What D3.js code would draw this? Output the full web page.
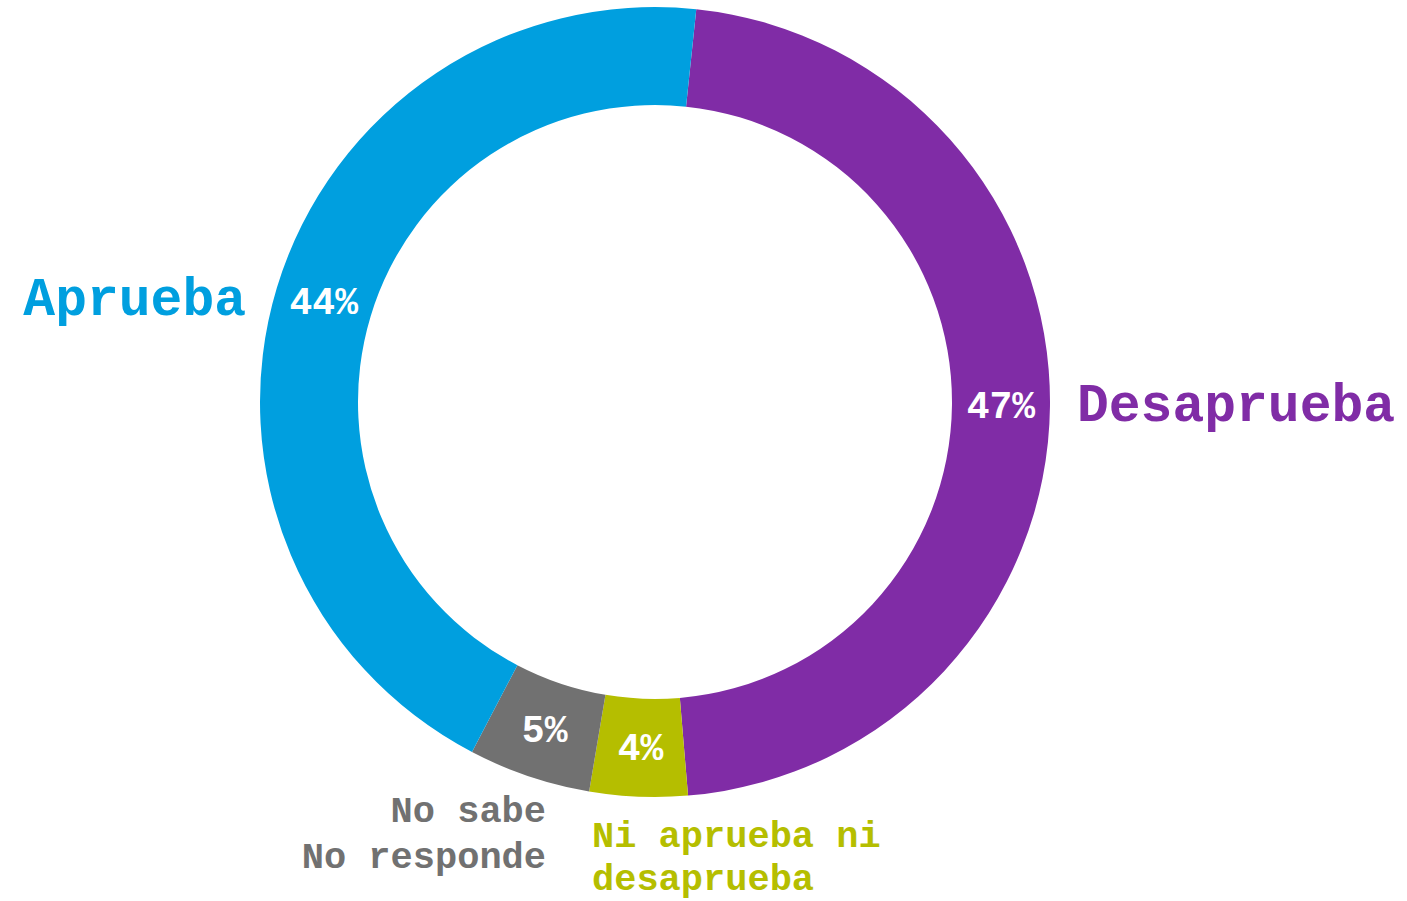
<!DOCTYPE html>
<html><head><meta charset="utf-8">
<script src="https://cdn.jsdelivr.net/npm/d3@7"></script>
<style>html,body{margin:0;padding:0;background:#fff;overflow:hidden}</style>
</head><body>
<svg id="c" width="1407" height="901"></svg>
<script>
const categories = ["Desaprueba", "Ni aprueba ni desaprueba", "No sabe No responde", "Aprueba"];
const values = [47, 4, 5, 44];
const pctLabels = ["47%", "4%", "5%", "44%"];
const colors = ["#802ca6", "#b5be00", "#717171", "#009fdf"];
const nameLines = [["Desaprueba"], ["Ni aprueba ni", "desaprueba"], ["No sabe", "No responde"], ["Aprueba"]];

const cx = 655, cy = 402, R = 395, r = 297;
const svg = d3.select("#c");
const g = svg.append("g").attr("transform", `translate(${cx},${cy})`);
const start = 6 * Math.PI / 180;
const pie = d3.pie().sort(null).value(d => d).startAngle(start).endAngle(start + 2 * Math.PI);
const arcs = pie(values);
const arc = d3.arc().innerRadius(r).outerRadius(R);
const font = "'Courier New','Liberation Mono',monospace";

g.selectAll("path").data(arcs).join("path")
  .attr("d", arc).attr("fill", (d, i) => colors[i]);

const mid = d3.arc().innerRadius(346).outerRadius(346);
g.selectAll("text.pct").data(arcs).join("text")
  .attr("class", "pct")
  .attr("x", d => mid.centroid(d)[0])
  .attr("y", d => mid.centroid(d)[1] + 12)
  .attr("text-anchor", "middle")
  .attr("font-family", font).attr("font-weight", "bold").attr("font-size", 38)
  .attr("fill", "#fff")
  .text((d, i) => pctLabels[i]);

// outer name labels
const labelSpec = [
  {x: 1077, y: 421, anchor: "start", size: 53, lh: 0},
  {x: 592, y: 847, anchor: "start", size: 37, lh: 43},
  {x: 546, y: 822, anchor: "end", size: 37, lh: 46},
  {x: 246, y: 315, anchor: "end", size: 53, lh: 0}
];
categories.forEach((c, i) => {
  const s = labelSpec[i];
  const t = svg.append("text")
    .attr("text-anchor", s.anchor)
    .attr("font-family", font).attr("font-weight", "bold").attr("font-size", s.size)
    .attr("fill", colors[i]);
  nameLines[i].forEach((ln, j) => {
    t.append("tspan").attr("x", s.x).attr("y", s.y + j * s.lh).text(ln);
  });
});
</script>
</body></html>
